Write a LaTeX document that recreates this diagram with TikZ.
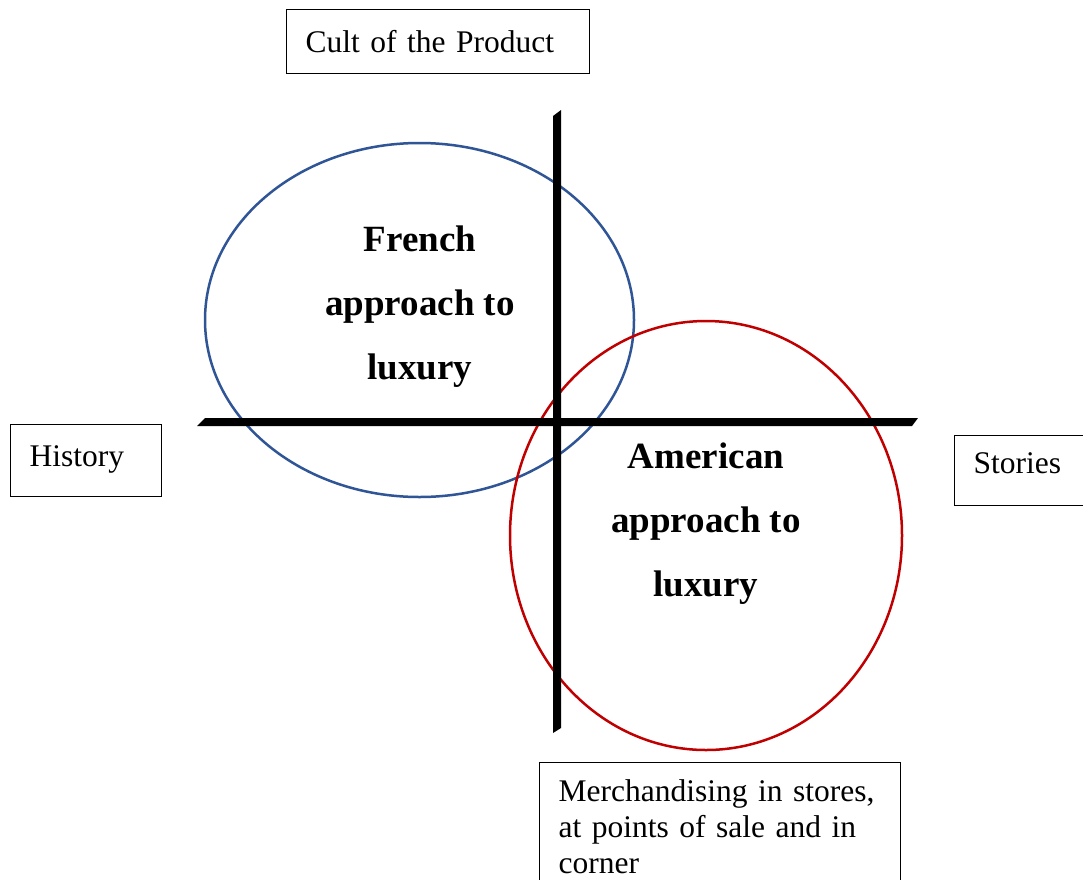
\documentclass[tikz,border=0pt]{standalone}
\usepackage{fontspec}
\setmainfont{Liberation Serif}

\definecolor{frenchblue}{HTML}{2F5597}
\definecolor{usred}{HTML}{C00000}

\tikzset{
  labelbox/.style={draw, line width=1.3pt, anchor=north west, text width=#1, align=left,
    inner xsep=19pt, inner ysep=0pt, font=\fontsize{31.5}{36}\selectfont},
  approach/.style={align=center, font=\fontsize{37}{64}\selectfont\bfseries},
  axis/.style={fill=black}
}

\begin{document}
\begin{tikzpicture}[x=1pt, y=-1pt]
\clip (0,0) rectangle (1083,879);
\fill[white] (0,0) rectangle (1083,879);

% the two approaches
\draw[frenchblue, line width=2.5pt] (419.5,320) ellipse [x radius=214.5, y radius=177];
\draw[usred, line width=2.5pt] (706,535.5) ellipse [x radius=196, y radius=214.5];

% axes
\fill[axis] (197,426) -- (205,418) -- (918,418) -- (912,426) -- cycle;
\fill[axis] (553,116) -- (561,110) -- (561,728) -- (553,733) -- cycle;

\node[approach] (french) at (420,307) {French\\approach to\\luxury};
\node[approach] (american) at (706,524) {American\\approach to\\luxury};

% axis labels
\node[labelbox=265pt, minimum height=64pt] (cult) at (286,9) {Cult of the Product};
\node[labelbox=113pt, minimum height=72pt, text depth=10pt] (history) at (10,424) {History};
\node[labelbox=110pt, minimum height=70pt, text depth=15pt] (stories) at (954,435) {Stories};
\node[labelbox=323pt, inner ysep=17pt] (merch) at (539,762)
  {Merchandising in stores, at points of sale and in corner};
\end{tikzpicture}
\end{document}
